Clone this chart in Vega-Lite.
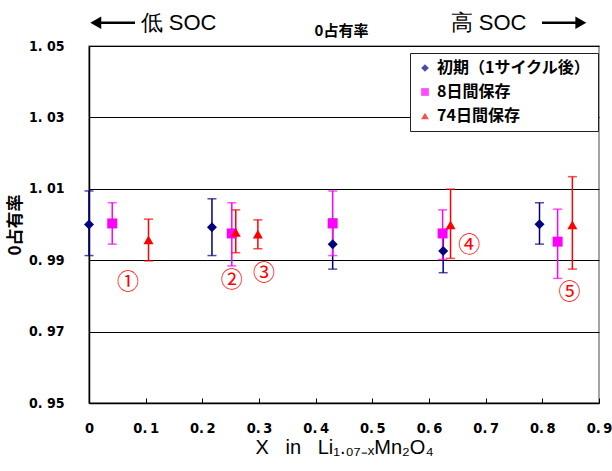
{
  "$schema": "https://vega.github.io/schema/vega-lite/v6.json",
  "autosize": "none",
  "width": 510,
  "height": 357,
  "padding": {"left": 89, "top": 46, "right": 13, "bottom": 68},
  "background": "white",
  "config": {
    "view": {"stroke": "#888888", "strokeWidth": 1.5},
    "font": "Noto Sans CJK JP"
  },
  "datasets": {
    "pts": [
      {"series": "初期（1サイクル後）", "x": 0.0, "mean": 1.0000, "lo": 0.9913, "hi": 1.0094},
      {"series": "初期（1サイクル後）", "x": 0.217, "mean": 0.9992, "lo": 0.9913, "hi": 1.0072},
      {"series": "初期（1サイクル後）", "x": 0.430, "mean": 0.9945, "lo": 0.9875, "hi": 1.0015},
      {"series": "初期（1サイクル後）", "x": 0.625, "mean": 0.9926, "lo": 0.9865, "hi": 0.9985},
      {"series": "初期（1サイクル後）", "x": 0.795, "mean": 1.0001, "lo": 0.9945, "hi": 1.0061},
      {"series": "8日間保存", "x": 0.041, "mean": 1.0003, "lo": 0.9945, "hi": 1.0061},
      {"series": "8日間保存", "x": 0.252, "mean": 0.9975, "lo": 0.9884, "hi": 1.0061},
      {"series": "8日間保存", "x": 0.430, "mean": 1.0003, "lo": 0.9913, "hi": 1.0094},
      {"series": "8日間保存", "x": 0.624, "mean": 0.9975, "lo": 0.9902, "hi": 1.0041},
      {"series": "8日間保存", "x": 0.827, "mean": 0.9952, "lo": 0.9849, "hi": 1.0043},
      {"series": "74日間保存", "x": 0.105, "mean": 0.9957, "lo": 0.9898, "hi": 1.0015},
      {"series": "74日間保存", "x": 0.259, "mean": 0.9978, "lo": 0.9921, "hi": 1.0041},
      {"series": "74日間保存", "x": 0.298, "mean": 0.9973, "lo": 0.9932, "hi": 1.0013},
      {"series": "74日間保存", "x": 0.638, "mean": 0.9999, "lo": 0.9905, "hi": 1.0099},
      {"series": "74日間保存", "x": 0.853, "mean": 0.9999, "lo": 0.9875, "hi": 1.0134}
    ],
    "notes": [
      {"label": "①", "x": 0.069, "y": 0.9839},
      {"label": "②", "x": 0.252, "y": 0.9845},
      {"label": "③", "x": 0.309, "y": 0.9863},
      {"label": "④", "x": 0.671, "y": 0.9943},
      {"label": "⑤", "x": 0.848, "y": 0.9812}
    ],
    "soc": [
      {"label": "低 SOC", "x": 0.158, "y": 1.0564},
      {"label": "高 SOC", "x": 0.705, "y": 1.0564}
    ],
    "heading": [
      {"label": "0占有率", "x": 0.4456, "y": 1.0543}
    ],
    "shafts": [
      {"x1": 0.012, "x2": 0.0812, "y": 1.0565},
      {"x1": 0.7994, "x2": 0.868, "y": 1.0565}
    ],
    "leftHead": [
      {"x": 0.012, "y": 1.0565}
    ],
    "rightHead": [
      {"x": 0.868, "y": 1.0565}
    ]
  },
  "layer": [
    {
      "data": {"name": "pts"},
      "mark": {"type": "rule", "strokeWidth": 1.5},
      "encoding": {
        "x": {"field": "x", "type": "quantitative", "scale": {"domain": [0, 0.9], "nice": false},
          "axis": {"values": [0, 0.1, 0.2, 0.3, 0.4, 0.5, 0.6, 0.7, 0.8, 0.9], "grid": false, "domainColor": "black", "domainWidth": 1.5, "labelFlush": false,
            "tickColor": "black", "tickSize": -5, "labelPadding": 23, "labelFont": "DejaVu Sans Condensed", "labelFontWeight": "bold", "labelFontSize": 14.5, "labelColor": "black",
            "labelExpr": "datum.value == 0 ? '0' : replace(format(datum.value, '.1f'), '.', '.\u2009')",
            "title": "X\u00a0\u00a0\u00a0in\u00a0\u00a0\u00a0Li₁.₀₇₋ₓMn₂O₄", "titleFont": "Liberation Sans", "titleFontSize": 20, "titleFontWeight": "normal", "titleColor": "black", "titlePadding": 3}},
        "y": {"field": "lo", "type": "quantitative", "scale": {"domain": [0.95, 1.05], "nice": false, "zero": false},
          "axis": {"values": [0.95, 0.97, 0.99, 1.01, 1.03, 1.05], "grid": true, "gridColor": "black", "gridWidth": 1, "gridOpacity": 1, "labelFlush": false,
            "domainColor": "black", "domainWidth": 1.5, "ticks": false, "labelPadding": 25,
            "labelFont": "DejaVu Sans Condensed", "labelFontWeight": "bold", "labelFontSize": 14, "labelColor": "black",
            "labelExpr": "replace(format(datum.value, '.2f'), '.', '. ')",
            "title": "0占有率", "titleFont": "Noto Sans CJK JP", "titleFontSize": 17, "titleFontWeight": "bold", "titleColor": "black", "titlePadding": 4}},
        "y2": {"field": "hi"},
        "color": {"field": "series", "type": "nominal"}
      }
    },
    {
      "data": {"name": "pts"},
      "mark": {"type": "tick", "orient": "horizontal", "size": 9, "thickness": 1.5},
      "encoding": {
        "x": {"field": "x", "type": "quantitative"},
        "y": {"field": "lo", "type": "quantitative"},
        "color": {"field": "series", "type": "nominal"}
      }
    },
    {
      "data": {"name": "pts"},
      "mark": {"type": "tick", "orient": "horizontal", "size": 9, "thickness": 1.5},
      "encoding": {
        "x": {"field": "x", "type": "quantitative"},
        "y": {"field": "hi", "type": "quantitative"},
        "color": {"field": "series", "type": "nominal"}
      }
    },
    {
      "data": {"name": "pts"},
      "mark": {"type": "point", "filled": true, "opacity": 1, "size": 100},
      "encoding": {
        "x": {"field": "x", "type": "quantitative"},
        "y": {"field": "mean", "type": "quantitative"},
        "color": {"field": "series", "type": "nominal",
          "scale": {"domain": ["初期（1サイクル後）", "8日間保存", "74日間保存"], "range": ["#000080", "#FF00FF", "#FF0000"]},
          "legend": {"title": null, "orient": "none", "legendX": 321, "legendY": 7, "fillColor": "white", "strokeColor": "#222222",
            "padding": 7, "labelFont": "Noto Sans CJK JP", "labelFontWeight": "bold", "labelFontSize": 16, "labelColor": "black",
            "symbolSize": 60, "rowPadding": 8, "labelOffset": 4, "symbolStrokeWidth": 0}},
        "shape": {"field": "series", "type": "nominal",
          "scale": {"domain": ["初期（1サイクル後）", "8日間保存", "74日間保存"], "range": ["diamond", "square", "triangle-up"]},
          "legend": {"title": null, "orient": "none", "legendX": 321, "legendY": 7, "fillColor": "white", "strokeColor": "#222222",
            "padding": 7, "labelFont": "Noto Sans CJK JP", "labelFontWeight": "bold", "labelFontSize": 16, "labelColor": "black",
            "symbolSize": 60, "rowPadding": 8, "labelOffset": 4, "symbolStrokeWidth": 0}}
      }
    },
    {
      "data": {"name": "notes"},
      "mark": {"type": "text", "color": "#FF0000", "fontSize": 22, "font": "Noto Sans CJK JP"},
      "encoding": {
        "x": {"field": "x", "type": "quantitative"},
        "y": {"field": "y", "type": "quantitative"},
        "text": {"field": "label"}
      }
    },
    {
      "data": {"name": "soc"},
      "mark": {"type": "text", "color": "black", "fontSize": 22, "font": "Liberation Sans"},
      "encoding": {
        "x": {"field": "x", "type": "quantitative"},
        "y": {"field": "y", "type": "quantitative"},
        "text": {"field": "label"}
      }
    },
    {
      "data": {"name": "heading"},
      "mark": {"type": "text", "color": "black", "fontSize": 15, "fontWeight": "bold", "font": "Noto Sans CJK JP"},
      "encoding": {
        "x": {"field": "x", "type": "quantitative"},
        "y": {"field": "y", "type": "quantitative"},
        "text": {"field": "label"}
      }
    },
    {
      "data": {"name": "shafts"},
      "mark": {"type": "rule", "color": "black", "strokeWidth": 2.5},
      "encoding": {
        "x": {"field": "x1", "type": "quantitative"},
        "x2": {"field": "x2"},
        "y": {"field": "y", "type": "quantitative"}
      }
    },
    {
      "data": {"name": "leftHead"},
      "mark": {"type": "point", "filled": true, "opacity": 1, "color": "black", "size": 160, "shape": "triangle-left"},
      "encoding": {
        "x": {"field": "x", "type": "quantitative"},
        "y": {"field": "y", "type": "quantitative"}
      }
    },
    {
      "data": {"name": "rightHead"},
      "mark": {"type": "point", "filled": true, "opacity": 1, "color": "black", "size": 160, "shape": "triangle-right"},
      "encoding": {
        "x": {"field": "x", "type": "quantitative"},
        "y": {"field": "y", "type": "quantitative"}
      }
    }
  ]
}
